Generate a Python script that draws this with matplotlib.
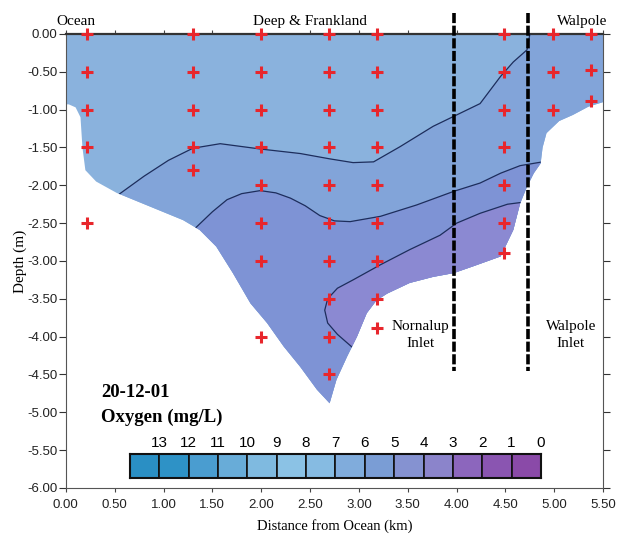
import matplotlib
matplotlib.use("Agg")
import matplotlib.pyplot as plt
import numpy as np
from matplotlib.patches import Polygon

# ---------------- data ----------------
# sampling stations (km from ocean, depth m)
station_x = [0.215]*5 + [1.30]*5 + [2.00]*8 + [2.69]*10 + [3.19]*9 + [4.48]*7 + [4.99]*3 + [5.38]*3
station_y = ([0, -0.5, -1.0, -1.5, -2.5] +
             [0, -0.5, -1.0, -1.5, -1.8] +
             [0, -0.5, -1.0, -1.5, -2.0, -2.5, -3.0, -4.0] +
             [0, -0.5, -1.0, -1.5, -2.0, -2.5, -3.0, -3.5, -4.0, -4.5] +
             [0, -0.5, -1.0, -1.5, -2.0, -2.5, -3.0, -3.5, -3.88] +
             [0, -0.5, -1.0, -1.5, -2.0, -2.5, -2.9] +
             [0, -0.5, -1.0] +
             [0, -0.47, -0.88])

# water body outline
water_x = [0.0, 5.5, 5.5, 5.35, 5.19, 5.05, 4.92, 4.88, 4.86, 4.79, 4.72, 4.65, 4.58, 4.45,
           4.17, 3.97, 3.76, 3.52, 3.29, 3.18, 3.08, 2.98, 2.88, 2.77, 2.70,
           2.57, 2.40, 2.23, 2.06, 1.89, 1.71, 1.54, 1.37, 1.20, 0.86, 0.52, 0.31,
           0.20, 0.17, 0.15, 0.10, 0.03, 0.0]
water_y = [0.0, 0.0, -0.90, -0.96, -1.07, -1.15, -1.31, -1.50, -1.71, -1.84, -2.02, -2.24, -2.59, -2.94,
           -3.07, -3.16, -3.21, -3.29, -3.43, -3.52, -3.69, -4.00, -4.26, -4.57, -4.88,
           -4.70, -4.40, -4.13, -3.82, -3.56, -3.16, -2.81, -2.59, -2.46, -2.28, -2.10, -1.95,
           -1.80, -1.50, -1.10, -0.97, -0.93, -0.93]

# oxygen contour lines
c1_x = [0.50, 0.80, 1.05, 1.30, 1.58, 1.99, 2.40, 2.70, 2.94, 3.15, 3.42, 3.76, 4.00, 4.24, 4.45, 4.58, 4.72, 4.75]
c1_y = [-2.16, -1.88, -1.67, -1.51, -1.45, -1.52, -1.58, -1.65, -1.70, -1.69, -1.49, -1.22, -1.07, -0.92, -0.56, -0.37, -0.21, 0.0]
c2_x = [1.33, 1.50, 1.65, 1.80, 1.99, 2.15, 2.30, 2.45, 2.60, 2.75, 2.91, 3.22, 3.59, 3.97, 4.24, 4.45, 4.65, 4.88]
c2_y = [-2.56, -2.35, -2.19, -2.11, -2.07, -2.10, -2.17, -2.27, -2.40, -2.47, -2.48, -2.41, -2.26, -2.08, -1.97, -1.84, -1.74, -1.69]
c3_x = [4.70, 4.52, 4.24, 4.00, 3.83, 3.52, 3.22, 2.94, 2.78, 2.68, 2.65, 2.68, 2.78, 2.94]
c3_y = [-2.22, -2.25, -2.37, -2.50, -2.66, -2.85, -3.05, -3.25, -3.36, -3.50, -3.65, -3.82, -3.97, -4.15]

# colour scale (oxygen mg/L)
cbar_labels = ["13", "12", "11", "10", "9", "8", "7", "6", "5", "4", "3", "2", "1", "0"]
cbar_colors = ["#2a8fc4", "#2e92c6", "#4a9dd0", "#68acd8", "#7fbae0", "#8bc2e5", "#86bbe2",
               "#80acdc", "#7a9dd5", "#8592d1", "#8b84cb", "#8c66bd", "#8a55b1", "#8a4aa8"]

region_colors = ["#8ab2dd", "#82a4d9", "#7e93d5", "#8b89d2"]

dash_x = [3.975, 4.73]

# ---------------- figure ----------------
fig = plt.figure(figsize=(6.27, 5.36), dpi=100)
ax = fig.add_axes([0.105, 0.0896, 0.857, 0.847])
ax.set_xlim(0, 5.5)
ax.set_ylim(-6.0, 0.0)

water = Polygon(np.column_stack([water_x, water_y]), closed=True,
                facecolor=region_colors[0], edgecolor="none", zorder=1)
ax.add_patch(water)

# region below contour 1
pB = np.column_stack([c1_x + [4.76, 6.0, 6.0, c1_x[0]],
                      c1_y + [0.5, 0.5, -6.5, -6.5]])
# region below contour 2
pC = np.column_stack([c2_x + [c2_x[-1], c2_x[0]],
                      c2_y + [-6.5, -6.5]])
pC = np.vstack([[c2_x[0] - 0.05, c2_y[0] - 0.05], pC])
# region right of contour 3
pD = np.column_stack([c3_x + [3.0, 4.75, 4.75],
                      c3_y + [-4.35, -6.0, -2.2]])
for poly, col in zip([pB, pC, pD], region_colors[1:]):
    p = Polygon(poly, closed=True, facecolor=col, edgecolor="none", zorder=2)
    ax.add_patch(p)
    p.set_clip_path(water)

for cx, cy in [(c1_x, c1_y), (c2_x, c2_y), (c3_x, c3_y)]:
    ln, = ax.plot(cx, cy, color="#1d2d5c", lw=0.9, zorder=3)
    ln.set_clip_path(water)

ax.plot(station_x, station_y, linestyle="none", marker="+", ms=8, mew=2.2,
        color="#e8262c", zorder=6, clip_on=False)

for dx in dash_x:
    ax.plot([dx, dx], [0.28, -4.46], color="black", lw=2.6, dashes=(2.8, 0.7),
            zorder=5, clip_on=False)

serif = "Liberation Serif"
ax.text(0.10, 0.12, "Ocean", family=serif, fontsize=11, ha="center", va="baseline")
ax.text(2.50, 0.12, "Deep & Frankland", family=serif, fontsize=11, ha="center", va="baseline")
ax.text(5.29, 0.12, "Walpole", family=serif, fontsize=11, ha="center", va="baseline")
ax.text(3.63, -3.98, "Nornalup\nInlet", family=serif, fontsize=11, ha="center", va="center",
        linespacing=1.35)
ax.text(5.17, -3.98, "Walpole\nInlet", family=serif, fontsize=11, ha="center", va="center",
        linespacing=1.35)
ax.text(0.36, -4.74, "20-12-01", family=serif, fontsize=13.5, weight="bold", ha="left", va="center")
ax.text(0.36, -5.07, "Oxygen (mg/L)", family=serif, fontsize=13.5, weight="bold", ha="left", va="center")

ax.set_xlabel("Distance from Ocean (km)", family=serif, fontsize=10.5, labelpad=6)
ax.set_ylabel("Depth (m)", family=serif, fontsize=11, labelpad=0)

xt = np.arange(0, 5.51, 0.5)
yt = np.arange(-6.0, 0.01, 0.5)
ax.set_xticks(xt)
ax.set_yticks(yt)
ax.set_xticklabels([f"{v:.2f}" for v in xt], family="Liberation Sans", fontsize=9.5)
ax.set_yticklabels([f"{v:.2f}" if abs(v) > 1e-9 else "0.00" for v in yt],
                   family="Liberation Sans", fontsize=9.5)
ax.tick_params(axis="y", direction="out", length=5, width=0.8, pad=1, colors="#333333",
               right=True, labelcolor="#222222")
ax.tick_params(axis="x", direction="out", length=3, width=0.8, pad=5, colors="#444444",
               top=True, labelcolor="#222222")
for s in ["left", "right", "bottom"]:
    ax.spines[s].set_color("#555555")
    ax.spines[s].set_linewidth(0.8)
ax.spines["top"].set_color("#333333")
ax.spines["top"].set_linewidth(1.6)

# colour key
cax = fig.add_axes([0.2073, 0.1076, 0.6555, 0.0448])
n = len(cbar_colors)
cax.bar(np.arange(n), [1] * n, width=1.0, align="edge", color=cbar_colors,
        edgecolor="#111111", linewidth=1.2)
cax.set_xlim(0, n)
cax.set_ylim(0, 1)
cax.set_yticks([])
cax.set_xticks(np.arange(1, n + 1))
cax.set_xticklabels(cbar_labels, family="Liberation Sans", fontsize=11)
cax.xaxis.tick_top()
cax.tick_params(axis="x", length=0, pad=3)
for s in cax.spines.values():
    s.set_linewidth(1.5)
    s.set_color("#111111")

fig.savefig("out.png", dpi=100)
